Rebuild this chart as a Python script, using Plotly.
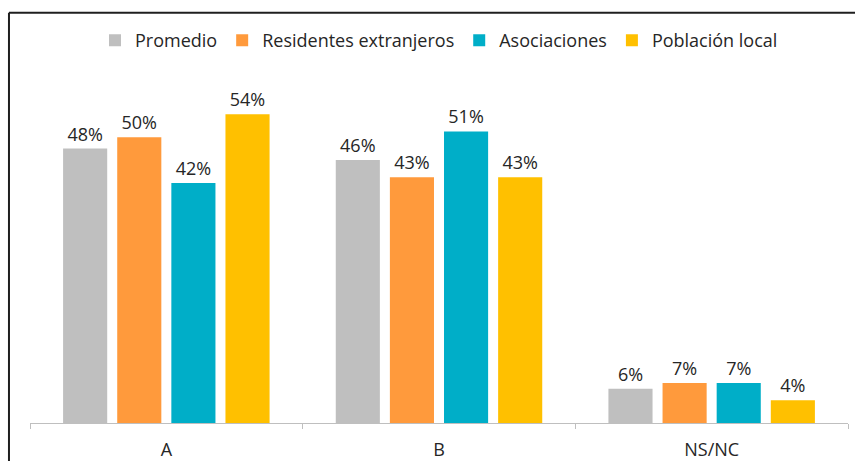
import plotly.graph_objects as go

categories = ["A", "B", "NS/NC"]
series_names = ["Promedio", "Residentes extranjeros", "Asociaciones", "Población local"]
promedio = [48, 46, 6]
residentes = [50, 43, 7]
asociaciones = [42, 51, 7]
poblacion = [54, 43, 4]
series_values = [promedio, residentes, asociaciones, poblacion]
colors = ["#BFBFBF", "#FF9A3C", "#00AEC8", "#FFC000"]

FONT = "Open Sans"
TEXT = "#262626"
SIZE = 18

fig = go.Figure()
for name, vals, col in zip(series_names, series_values, colors):
    fig.add_trace(go.Bar(
        name=name,
        x=categories,
        y=vals,
        marker=dict(color=col, line=dict(width=0)),
        text=[f"{v}%" for v in vals],
        textposition="outside",
        textfont=dict(family=FONT, size=SIZE, color=TEXT),
        cliponaxis=False,
    ))

fig.update_layout(
    width=855,
    height=461,
    margin=dict(l=30, r=7, t=80, b=38),
    paper_bgcolor="white",
    plot_bgcolor="white",
    barmode="group",
    bargap=0.206,
    bargroupgap=0.185,
    font=dict(family=FONT, size=SIZE, color=TEXT),
    showlegend=True,
    legend=dict(
        orientation="h",
        x=0.5, xanchor="center",
        y=1.115, yanchor="middle",
        font=dict(family=FONT, size=SIZE, color=TEXT),
        itemwidth=30,
        traceorder="normal",
    ),
    xaxis=dict(
        automargin=False,
        showline=True,
        linecolor="#BFBFBF",
        linewidth=1,
        ticks="outside",
        tickson="boundaries",
        ticklen=5,
        tickcolor="#BFBFBF",
        ticklabelstandoff=10,
        tickfont=dict(family=FONT, size=SIZE, color=TEXT),
        showgrid=False,
        zeroline=False,
    ),
    yaxis=dict(
        automargin=False,
        range=[0, 60],
        visible=False,
        showgrid=False,
        zeroline=False,
    ),
    shapes=[
        # chart frame (left and top edges)
        dict(type="line", xref="paper", yref="paper",
             x0=-0.0257, x1=1.2, y0=1.196, y1=1.196,
             line=dict(color="#1F1F1F", width=2)),
        dict(type="line", xref="paper", yref="paper",
             x0=-0.0257, x1=-0.0257, y0=1.196, y1=-0.2,
             line=dict(color="#1F1F1F", width=2)),
    ],
)

fig.write_html("out.html")
